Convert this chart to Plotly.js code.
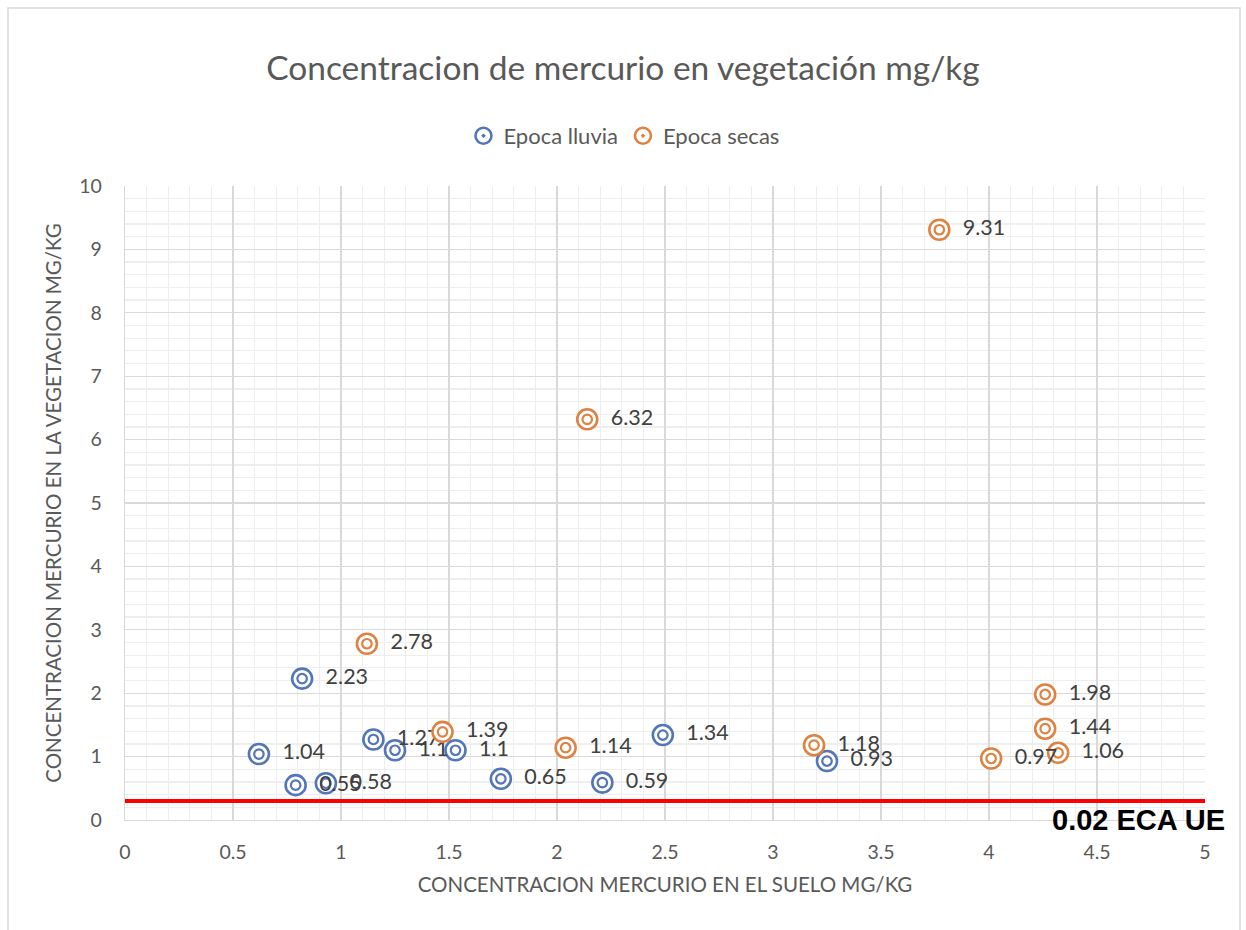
<!DOCTYPE html>
<html>
<head>
<meta charset="utf-8">
<script src="https://cdn.plot.ly/plotly-3.0.1.min.js"></script>
<style>html,body{margin:0;padding:0;background:#fff;}</style>
</head>
<body>
<div id="chart" style="width:1246px;height:930px;"></div>
<script>
// Epoca lluvia (rainy season)
const lluviaSuelo = [0.62, 0.82, 0.79, 0.93, 1.15, 1.25, 1.53, 1.74, 2.21, 2.49, 3.25];
const lluviaVeg   = [1.04, 2.23, 0.55, 0.58, 1.27, 1.1, 1.1, 0.65, 0.59, 1.34, 0.93];
// Epoca secas (dry season)
const secasSuelo = [1.12, 1.47, 2.04, 2.14, 3.19, 3.77, 4.01, 4.26, 4.26, 4.32];
const secasVeg   = [2.78, 1.39, 1.14, 6.32, 1.18, 9.31, 0.97, 1.98, 1.44, 1.06];
// Reference limit line
const limitX = [0, 5];
const limitY = [0.3, 0.3];
const limitLabel = "0.02 ECA UE";

const BLUE = "#5276B8";
const ORANGE = "#DE8243";
const FONT = "Lato, 'Open Sans', sans-serif";
const GREY = "#595959";

function series(name, xs, ys, color) {
  return [
    { // outer ring (legend)
      type: "scatter", mode: "markers", name: name, x: xs, y: ys,
      marker: {symbol: "circle-dot", size: 20, color: "#ffffff", line: {color: color, width: 2.6}},
      hoverinfo: "x+y", legendgroup: name
    },
    { // inner ring
      type: "scatter", mode: "markers", name: name, x: xs, y: ys, showlegend: false,
      marker: {symbol: "circle", size: 9.5, color: "#ffffff", line: {color: color, width: 2.2}},
      hoverinfo: "skip", legendgroup: name
    },
    { // data labels
      type: "scatter", mode: "markers+text", name: name, x: xs, y: ys, showlegend: false,
      text: ys.map(v => String(v)), textposition: "middle right",
      marker: {size: 36, color: "rgba(0,0,0,0)"},
      textfont: {family: FONT, size: 21.5, color: "#404040"},
      hoverinfo: "skip", legendgroup: name
    }
  ];
}

const data = [
  {type: "scatter", mode: "lines", x: limitX, y: limitY, showlegend: false,
   line: {color: "#FF0000", width: 4}, hoverinfo: "skip"},
  ...series("Epoca lluvia", lluviaSuelo, lluviaVeg, BLUE),
  ...series("Epoca secas", secasSuelo, secasVeg, ORANGE)
];

const layout = {
  width: 1246, height: 930,
  margin: {l: 125, r: 41, t: 186, b: 110},
  paper_bgcolor: "#ffffff", plot_bgcolor: "#ffffff",
  font: {family: FONT, color: GREY},
  title: {text: "Concentracion de mercurio en vegetación mg/kg",
          font: {family: FONT, size: 33.5, color: GREY},
          x: 0.5, xanchor: "center", y: 1 - 68/930, yanchor: "middle", yref: "container"},
  showlegend: true,
  legend: {orientation: "h", x: 0.462, xanchor: "center", y: 1.079, yanchor: "middle",
           font: {family: FONT, size: 22, color: GREY}, itemclick: false, tracegroupgap: 0},
  xaxis: {
    range: [0, 5], tickmode: "linear", tick0: 0, dtick: 0.5,
    tickfont: {family: FONT, size: 19.5, color: GREY},
    showgrid: true, gridcolor: "#d9d9d9", gridwidth: 1.3,
    minor: {tickmode: "linear", tick0: 0, dtick: 0.1, showgrid: true, gridcolor: "#eeeeee", gridwidth: 1.3},
    zeroline: false, showline: true, linecolor: "#d9d9d9", linewidth: 1.3,
    ticks: "", automargin: false, ticklabelstandoff: 14,
    title: {text: "CONCENTRACION MERCURIO EN EL SUELO MG/KG", standoff: 16,
            font: {family: FONT, size: 20.5, color: GREY}}
  },
  yaxis: {
    range: [0, 10], tickmode: "linear", tick0: 0, dtick: 1,
    tickfont: {family: FONT, size: 19.5, color: GREY},
    showgrid: true, gridcolor: "#d9d9d9", gridwidth: 1.3,
    minor: {tickmode: "linear", tick0: 0, dtick: 0.2, showgrid: true, gridcolor: "#eeeeee", gridwidth: 1.3},
    zeroline: false, showline: true, linecolor: "#d9d9d9", linewidth: 1.3,
    ticks: "", automargin: false, ticklabelstandoff: 18,
    title: {text: "CONCENTRACION MERCURIO EN LA VEGETACION MG/KG", standoff: 12,
            font: {family: FONT, size: 20.5, color: GREY}}
  },
  annotations: [{
    x: (1227 - 125) / 1080, y: 0, xref: "paper", yref: "paper", xanchor: "right", yanchor: "middle",
    text: "<b>" + limitLabel + "</b>", showarrow: false,
    font: {family: "'Liberation Sans', Arial, sans-serif", size: 29, color: "#000000"}
  }],
  shapes: [{
    type: "rect", xref: "paper", yref: "paper",
    x0: (8 - 125) / 1080, x1: (1240 - 125) / 1080,
    y0: (820 - 960) / 634, y1: (820 - 8) / 634,
    line: {color: "#d9d9d9", width: 1.5}, fillcolor: "rgba(0,0,0,0)", layer: "below"
  }]
};

Plotly.newPlot("chart", data, layout, {displayModeBar: false, staticPlot: true});
</script>
</body>
</html>
